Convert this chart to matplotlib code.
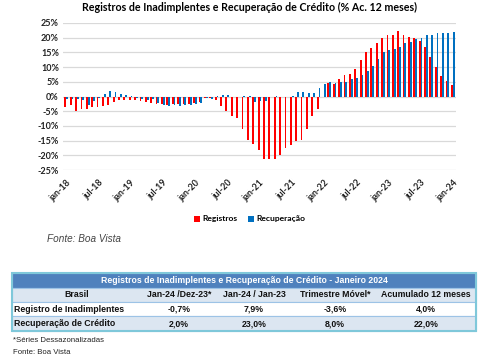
import numpy as np
import matplotlib

matplotlib.use("Agg")
import matplotlib.pyplot as plt
from matplotlib.patches import Rectangle

# monthly series, jan-18 .. jan-24 (% accumulated 12 months)
registros = [
    -3.6, -3.0, -5.1, -4.3, -4.3, -3.5, -3.7, -3.4, -2.9, -1.8, -1.2, -1.1,
    -1.3, -1.2, -1.5, -1.9, -2.1, -2.7, -2.7, -2.8, -2.6, -2.7, -2.6, -2.5,
    -2.3, -1.8, -0.5, -0.4, -1.2, -3.1, -4.9, -6.8, -7.4, -10.9, -14.9, -16.2,
    -18.3, -21.3, -21.3, -21.3, -20.0, -17.5, -16.6, -15.1, -14.8, -10.9, -6.6, -4.3,
    -0.2, 4.6, 4.4, 6.1, 7.3, 7.5, 9.5, 12.3, 15.2, 16.6, 18.3, 19.8,
    20.8, 20.8, 22.3, 20.8, 20.3, 19.8, 18.9, 16.8, 13.5, 10.1, 6.9, 5.3,
    4.0,
]
recuperacao = [
    -1.0, -1.0, -0.8, -1.1, -2.8, -1.4, -0.4, 0.9, 1.8, 1.5, 0.9, 0.4,
    0.1, -0.5, -0.7, -1.2, -0.9, -2.3, -3.0, -3.3, -3.0, -3.3, -2.8, -2.8,
    -2.7, -2.1, -0.6, -0.8, 0.3, 0.6, 0.6, 0.0, -0.3, 0.1, 0.2, -1.9,
    -1.7, -1.7, 0.0, 0.2, 0.0, 0.0, 0.3, 1.6, 1.6, 1.1, 1.1, 2.9,
    4.1, 5.0, 4.5, 4.8, 5.0, 6.1, 6.3, 7.2, 8.8, 10.5, 12.9, 15.2,
    15.8, 16.3, 17.0, 18.1, 18.4, 19.4, 20.0, 20.8, 21.0, 21.5, 21.5, 21.5,
    22.0,
]
tick_labels = ["jan-18", "jul-18", "jan-19", "jul-19", "jan-20", "jul-20", "jan-21",
               "jul-21", "jan-22", "jul-22", "jan-23", "jul-23", "jan-24"]
y_ticks = [25, 20, 15, 10, 5, 0, -5, -10, -15, -20, -25]

# summary table
table_title = "Registros de Inadimplentes e Recuperação de Crédito - Janeiro 2024"
col_headers = ["Brasil", "Jan-24 /Dez-23*", "Jan-24 / Jan-23", "Trimestre Móvel*", "Acumulado 12 meses"]
row_names = ["Registro de Inadimplentes", "Recuperação de Crédito"]
row_values = [["-0,7%", "7,9%", "-3,6%", "4,0%"],
              ["2,0%", "23,0%", "8,0%", "22,0%"]]

RED = "#FF0000"
BLUE = "#0070C0"
W, H = 500, 359

fig = plt.figure(figsize=(W / 100, H / 100), dpi=100)
fig.patch.set_facecolor("white")

# ---- bar chart ----
ax = fig.add_axes([63 / W, 1 - 170 / H, (456 - 63) / W, (170 - 23) / H])
x = np.arange(len(registros))
bw = 0.34
ax.bar(x - bw / 2, registros, bw, color=RED, label="Registros", zorder=3)
ax.bar(x + bw / 2, recuperacao, bw, color=BLUE, label="Recuperação", zorder=3)

ax.set_xlim(-0.6, len(registros) - 0.4)
ax.set_ylim(-25, 25)
ax.set_yticks(y_ticks)
ax.set_yticklabels([f"{v}%" for v in y_ticks], fontsize=6.5, fontweight="bold",
                   family="Lato", color="#222222")
ax.set_xticks(x[::6])
ax.set_xticklabels(tick_labels, rotation=45, ha="right", rotation_mode="anchor",
                   fontsize=6.5, fontweight="bold", family="Lato", color="#222222")
ax.tick_params(axis="y", length=0, pad=3)
ax.tick_params(axis="x", length=0, pad=6)
ax.grid(axis="y", color="#d9d9d9", linewidth=0.9, zorder=0)
for s in ax.spines.values():
    s.set_visible(False)

fig.text(0.5, 1 - 7 / H, "Registros de Inadimplentes e Recuperação de Crédito (% Ac. 12 meses)",
         ha="center", va="center", fontsize=7.7, fontweight="bold", family="Lato")

leg = fig.legend(loc="center", bbox_to_anchor=(0.5, 1 - 219 / H), ncol=2, frameon=False,
                 handlelength=0.7, handleheight=0.7, handletextpad=0.3, columnspacing=1.2,
                 prop={"family": "Lato", "weight": "bold", "size": 6.1})

fig.text(47 / W, 1 - 239 / H, "Fonte: Boa Vista", ha="left", va="center", fontsize=7.2,
         style="italic", family="Liberation Sans", color="#444444")

# ---- table (pixel coordinates) ----
tax = fig.add_axes([0, 0, 1, 1])
tax.set_xlim(0, W)
tax.set_ylim(H, 0)
tax.axis("off")

left, right = 12, 476
rows_y = [273, 287.5, 302, 316, 331]
fills = ["#4F81BD", "#DCE6F1", "#FFFFFF", "#DCE6F1"]
for i, fc in enumerate(fills):
    tax.add_patch(Rectangle((left, rows_y[i]), right - left, rows_y[i + 1] - rows_y[i],
                            facecolor=fc, edgecolor="#9DC3E6", linewidth=0.8))
tax.add_patch(Rectangle((left, rows_y[0]), right - left, rows_y[-1] - rows_y[0],
                        facecolor="none", edgecolor="#7FC8DA", linewidth=1.5))

col_x = [77, 179, 254, 335, 426]
tf = {"family": "Liberation Sans", "fontweight": "bold", "va": "center"}
tax.text((left + right) / 2, (rows_y[0] + rows_y[1]) / 2, table_title, ha="center",
         color="white", fontsize=6.3, **tf)
ym = (rows_y[1] + rows_y[2]) / 2
for cx, lab in zip(col_x, col_headers):
    tax.text(cx, ym, lab, ha="center", fontsize=6.3, color="#111111", **tf)
for r, (name, vals) in enumerate(zip(row_names, row_values)):
    ym = (rows_y[r + 2] + rows_y[r + 3]) / 2
    tax.text(14, ym, name, ha="left", fontsize=6.3, color="#111111", **tf)
    for cx, v in zip(col_x[1:], vals):
        tax.text(cx, ym, v, ha="center", fontsize=6.3, color="#111111", **tf)

tax.text(13, 340, "*Séries Dessazonalizadas", ha="left", va="center", fontsize=5.6,
         family="Liberation Sans", color="#222222")
tax.text(13, 353, "Fonte: Boa Vista", ha="left", va="center", fontsize=5.6,
         family="Liberation Sans", color="#222222")

fig.savefig("out.png", dpi=100, facecolor="white")
